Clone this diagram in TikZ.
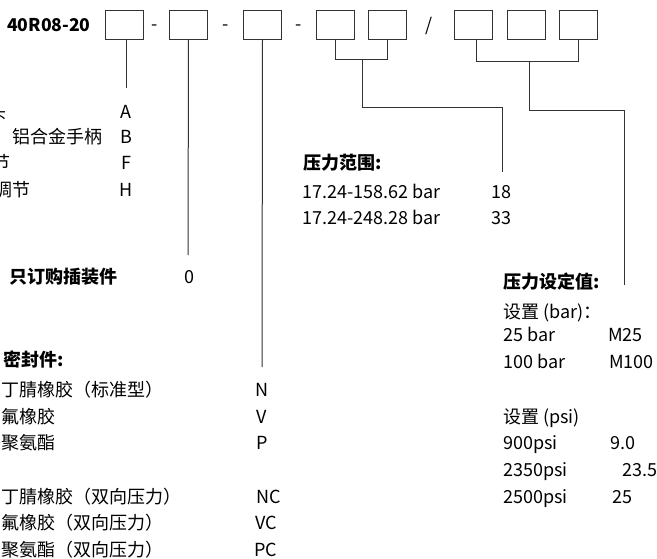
\documentclass[tikz,border=0pt]{standalone}
\usepackage{fontspec}
\setmainfont{Noto Sans CJK SC}
\begin{document}
\begin{tikzpicture}[x=1pt,y=-1pt,
  box/.style={draw=black!80,line width=1pt,minimum width=38pt,minimum height=29pt,inner sep=0pt},
  conn/.style={draw=black!80,line width=1pt},
  txt/.style={anchor=base west,inner sep=0pt,font=\fontsize{18}{21}\selectfont},
  btxt/.style={txt,font=\fontsize{18}{21}\selectfont\bfseries},
  code/.style={anchor=base,inner sep=0pt,font=\fontsize{18}{21}\selectfont}]
\useasboundingbox (0,0) rectangle (657,558);
% header
\node[btxt,font=\fontsize{17.6}{20}\selectfont\bfseries] (title) at (7,31.5) {40R08-20};
\node[box] (b1) at (124,24.5) {};
\node[code] (d1) at (155,30.5) {-};
\node[box] (b2) at (188.5,24.5) {};
\node[code] (d2) at (225.5,30.5) {-};
\node[box] (b3) at (262.5,24.5) {};
\node[code] (d3) at (298.5,30.5) {-};
\node[box] (b4) at (335,24.5) {};
\node[box] (b5) at (387.5,24.5) {};
\node[code] (sl) at (429,31.5) {/};
\node[box] (b6) at (473.5,24.5) {};
\node[box] (b7) at (526,24.5) {};
\node[box] (b8) at (578.5,24.5) {};
% free ends
\coordinate (e1) at (126.5,88);
\coordinate (e2) at (188,255);
\coordinate (e3) at (262,367);
\coordinate (j45) at (362,59);
\coordinate (e45) at (502,172);
\coordinate (j68) at (529,61);
\coordinate (e68) at (624,285);
% connectors
\draw[conn] ([xshift=2.5pt]b1.south) -- (e1);
\draw[conn] (b2.south) -- (e2);
\draw[conn] (b3.south) -- (e3);
\draw[conn] (b4.south) -- (b4.south |- j45) -- (b5.south |- j45) -- (b5.south);
\draw[conn] (j45) -- (j45 |- 0,107) -| (e45);
\draw[conn] ([xshift=2.5pt]b6.south) -- ([xshift=2.5pt]b6.south |- j68) -- ([xshift=-0.5pt]b8.south |- j68) -- ([xshift=-0.5pt]b8.south);
\draw[conn] (j68) -- (j68 |- 0,110) -| (e68);
% group 1
\node[txt] (a0) at (-11.5,118.5) {头};
\node[code] (a1) at (126,118.5) {A};
\node[txt] (b0) at (12,143.5) {铝合金手柄};
\node[code] (b1c) at (126,143.5) {B};
\node[txt] (f0) at (-7.5,169.5) {节};
\node[code] (f1) at (126,169.5) {F};
\node[txt] (h0) at (-5.5,196.5) {调节};
\node[code] (h1) at (126,196.5) {H};
% group 2
\node[btxt] (g2) at (9,283.5) {只订购插装件};
\node[code] (g2c) at (189,283.5) {0};
% group 3
\node[btxt] (s0) at (3,366.5) {密封件:};
\node[txt] (s1) at (1,396.5) {丁腈橡胶（标准型）};
\node[code] (s1c) at (262,396.5) {N};
\node[txt] (s2) at (1,423.5) {氟橡胶};
\node[code] (s2c) at (262,423.5) {V};
\node[txt] (s3) at (1,449.5) {聚氨酯};
\node[code] (s3c) at (262,449.5) {P};
\node[txt] (s4) at (1,503.5) {丁腈橡胶（双向压力）};
\node[code] (s4c) at (269,503.5) {NC};
\node[code] (s5c) at (266,529.5) {VC};
\node[txt] (s5) at (1,529.5) {氟橡胶（双向压力）};
\node[txt] (s6) at (1,556.5) {聚氨酯（双向压力）};
\node[code] (s6c) at (266,556.5) {PC};
% group 4
\node[btxt] (p0) at (303,169.5) {压力范围:};
\node[txt] (p1) at (302,198.5) {17.24-158.62 bar};
\node[code] (p1c) at (501,198.5) {18};
\node[txt] (p2) at (302,224.5) {17.24-248.28 bar};
\node[code] (p2c) at (501,224.5) {33};
% group 5
\node[btxt] (q0) at (503,288.5) {压力设定值:};
\node[txt] (q1) at (503,318.5) {设置 (bar)：};
\node[txt] (q2) at (503,341.5) {25 bar};
\node[txt] (q2c) at (608,341.5) {M25};
\node[txt] (q3) at (503,368.5) {100 bar};
\node[txt] (q3c) at (609,368.5) {M100};
\node[txt] (q4) at (503,423.5) {设置 (psi)};
\node[txt] (q5) at (503,449.5) {900psi};
\node[txt] (q5c) at (610,449.5) {9.0};
\node[txt] (q6) at (503,476.5) {2350psi};
\node[txt] (q6c) at (622,476.5) {23.5};
\node[txt] (q7) at (503,503.5) {2500psi};
\node[txt] (q7c) at (612,503.5) {25};
\end{tikzpicture}
\end{document}
